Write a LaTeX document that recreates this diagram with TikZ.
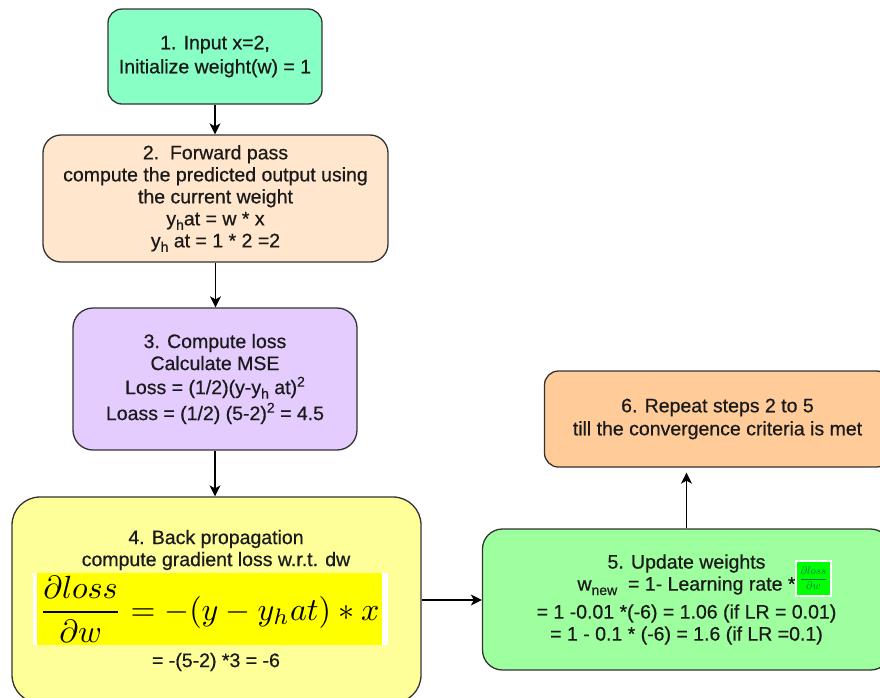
\documentclass[tikz,border=0pt]{standalone}
\usepackage{fontspec}
\setmainfont{Liberation Sans}
\newfontfamily\heavysans{Liberation Sans}[FakeBold=0.6]
\usepackage{amsmath}
\usepackage{graphicx}
\usetikzlibrary{positioning,arrows.meta,calc}
\definecolor{InkGray}{HTML}{1A1A1A}
\definecolor{EdgeGray}{HTML}{333333}
\definecolor{MintGreen}{HTML}{88FFC4}
\definecolor{Peach}{HTML}{FFE6CC}
\definecolor{Lavender}{HTML}{E5CCFF}
\definecolor{PaleYellow}{HTML}{FFFF99}
\definecolor{LightGreen}{HTML}{9EFF9E}
\definecolor{Apricot}{HTML}{FFCC99}
\definecolor{HiYellow}{HTML}{FFFF00}
\definecolor{HiGreen}{HTML}{00FF00}
\definecolor{DeepTeal}{HTML}{0F6E5A}
\newcommand{\subtxt}[1]{\raisebox{-4.5pt}{\fontsize{14}{14}\selectfont #1}}
\newcommand{\suptxt}[1]{\raisebox{7.5pt}{\fontsize{14}{14}\selectfont #1}}

\begin{document}
\begin{tikzpicture}[x=1pt, y=-1pt,
  boxtext/.style={align=center, text=InkGray, inner sep=0pt,
    font=\heavysans\fontsize{19.5}{22}\selectfont},
  stepbox/.style={boxtext, draw=EdgeGray, line width=1.3pt},
  flow/.style={-{Stealth[length=11pt,width=11pt,inset=3pt]}, line width=1.3pt}]
  \useasboundingbox (0,0) rectangle (880,697);

  % Left column: steps 1 to 4
  \node[stepbox, fill=MintGreen, minimum width=214pt, minimum height=95pt,
    rounded corners=14pt] (input) at (215,56.5)
    {1. Input x=2,\\[2pt]Initialize weight(w) = 1};
  \node[stepbox, fill=Peach, minimum width=345pt, minimum height=127pt,
    rounded corners=18pt] (forward) at (215.5,198.5)
    {2.\ \ Forward pass\\compute the predicted output using\\the current weight\\
     y\subtxt{h}at = w * x\\y\subtxt{h} at = 1 * 2 =2};
  \node[stepbox, fill=Lavender, minimum width=284pt, minimum height=142pt,
    rounded corners=20pt] (loss) at (215,379)
    {3. Compute loss\\Calculate MSE\\[2pt]Loss = (1/2)(y-y\subtxt{h} at)\suptxt{2}\\[4pt]
     Loass = (1/2) (5-2)\suptxt{2} = 4.5};
  \node[stepbox, fill=PaleYellow, minimum width=409pt, minimum height=206pt,
    rounded corners=28pt] (backprop) at (216.5,600) {};

  % Step 4 contents
  \node[boxtext] (bptitle) at (216,550)
    {4. Back propagation\\compute gradient loss w.r.t. dw};
  \fill[white] (33,573) rectangle (388,645);
  \node[fill=HiYellow, inner sep=0pt, minimum width=345pt, minimum height=72pt]
    (gradeq) at (209.5,609)
    {\resizebox*{340pt}{66pt}{$\dfrac{\partial loss}{\partial w} = -(y - y_h at) * x$}};
  \node[boxtext] (bpresult) at (216,662) {= -(5-2) *3 = -6};

  % Right column: steps 5 and 6
  \node[stepbox, fill=LightGreen, minimum width=408pt, minimum height=141pt,
    rounded corners=20pt] (update) at (686.5,599.5)
    {5. Update weights\\w\subtxt{new}\ \ = 1- Learning rate *\\[6pt]
     = 1 -0.01 *(-6) = 1.06 (if LR = 0.01)\\= 1 - 0.1 * (-6) = 1.6 (if LR =0.1)};
  \node[fill=HiGreen, draw=white, line width=2pt, inner sep=1pt,
    minimum width=35pt, minimum height=35pt, text=DeepTeal] (lrgrad) at (813.5,578.5)
    {\fontsize{11}{11}\selectfont$\dfrac{\partial loss}{\partial w}$};
  \node[stepbox, fill=Apricot, minimum width=346pt, minimum height=96pt,
    rounded corners=14pt] (repeat) at (717.5,419)
    {6. Repeat steps 2 to 5\\[1pt]till the convergence criteria is met};

  % Connectors
  \draw[flow] (input.south) -- (input.south |- forward.north);
  \draw[flow] (forward.south) -- (forward.south |- loss.north);
  \draw[flow] (loss.south) -- (loss.south |- backprop.north);
  \draw[flow] (backprop.east) -- (backprop.east -| update.west);
  \draw[flow, shorten >=5pt] (update.north) -- (update.north |- repeat.south);
\end{tikzpicture}
\end{document}
